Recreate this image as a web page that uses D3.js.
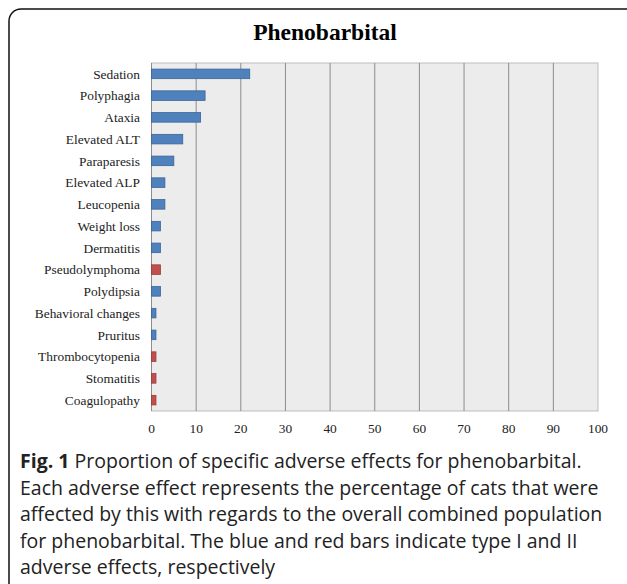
<!DOCTYPE html>
<html>
<head>
<meta charset="utf-8">
<script src="https://cdn.jsdelivr.net/npm/d3@7"></script>
<style>
  body { margin: 0; background: #fff; }
  svg { display: block; }
</style>
</head>
<body>
<svg width="627" height="584"></svg>
<script>
// data (percent of cats)
var categories = ["Sedation", "Polyphagia", "Ataxia", "Elevated ALT", "Paraparesis", "Elevated ALP",
  "Leucopenia", "Weight loss", "Dermatitis", "Pseudolymphoma", "Polydipsia", "Behavioral changes",
  "Pruritus", "Thrombocytopenia", "Stomatitis", "Coagulopathy"];
var values = [22, 12, 11, 7, 5, 3, 3, 2, 2, 2, 2, 1, 1, 1, 1, 1];
var types = ["I", "I", "I", "I", "I", "I", "I", "I", "I", "II", "I", "I", "I", "II", "II", "II"];
var xTicks = [0, 10, 20, 30, 40, 50, 60, 70, 80, 90, 100];
var captionLines = [
  "Proportion of specific adverse effects for phenobarbital.",
  "Each adverse effect represents the percentage of cats that were",
  "affected by this with regards to the overall combined population",
  "for phenobarbital. The blue and red bars indicate type I and II",
  "adverse effects, respectively"
];

var svg = d3.select("svg");

// outer frame
svg.append("rect")
  .attr("x", 9).attr("y", 9)
  .attr("width", 630).attr("height", 590)
  .attr("rx", 12)
  .attr("fill", "none").attr("stroke", "#111").attr("stroke-width", 1.5);

svg.append("text")
  .attr("x", 325).attr("y", 40)
  .attr("text-anchor", "middle")
  .attr("font-family", "Liberation Serif, serif")
  .attr("font-weight", "bold")
  .attr("font-size", 23.5)
  .text("Phenobarbital");

var pLeft = 151.5, pRight = 598, pTop = 63, pBottom = 411;

var x = d3.scaleLinear().domain([0, 100]).range([pLeft, pRight]);
var y = d3.scaleBand().domain(categories).range([pTop, pBottom]).paddingInner(0.56).paddingOuter(0.28);
var color = { "I": "#4F81BD", "II": "#C0504D" };
var stroke = { "I": "#3A6599", "II": "#9B3C3A" };

svg.append("rect")
  .attr("x", pLeft).attr("y", pTop)
  .attr("width", pRight - pLeft).attr("height", pBottom - pTop)
  .attr("fill", "#ECECEC").attr("stroke", "#BDBDBD");

// vertical gridlines
svg.append("g").selectAll("line")
  .data(xTicks.slice(1, -1))
  .enter().append("line")
  .attr("x1", function(d) { return x(d); })
  .attr("x2", function(d) { return x(d); })
  .attr("y1", pTop).attr("y2", pBottom)
  .attr("stroke", "#8C8C8C").attr("stroke-width", 1);

svg.append("line")
  .attr("x1", pLeft).attr("x2", pLeft).attr("y1", pTop).attr("y2", pBottom)
  .attr("stroke", "#8C8C8C");

// bars
svg.append("g").selectAll("rect")
  .data(categories)
  .enter().append("rect")
  .attr("x", x(0))
  .attr("y", function(d) { return y(d); })
  .attr("width", function(d, i) { return x(values[i]) - x(0); })
  .attr("height", y.bandwidth())
  .attr("fill", function(d, i) { return color[types[i]]; })
  .attr("stroke", function(d, i) { return stroke[types[i]]; })
  .attr("stroke-width", 0.8);

// category labels
svg.append("g").selectAll("text")
  .data(categories)
  .enter().append("text")
  .attr("x", 140)
  .attr("y", function(d) { return y(d) + y.bandwidth() / 2; })
  .attr("dy", "0.35em")
  .attr("text-anchor", "end")
  .attr("font-family", "Liberation Serif, serif")
  .attr("font-size", 13.4)
  .attr("fill", "#222")
  .text(function(d) { return d; });

// x tick labels
svg.append("g").selectAll("text")
  .data(xTicks)
  .enter().append("text")
  .attr("x", function(d) { return x(d); })
  .attr("y", 433)
  .attr("text-anchor", "middle")
  .attr("font-family", "Liberation Serif, serif")
  .attr("font-size", 13.4)
  .attr("fill", "#222")
  .text(function(d) { return d; });

// caption
var cap = svg.append("g")
  .attr("font-family", "Open Sans, sans-serif")
  .attr("font-size", 19.5)
  .attr("fill", "#222");

captionLines.forEach(function(line, i) {
  var t = cap.append("text").attr("x", 20).attr("y", 468 + i * 26.5);
  if (i == 0) {
    t.append("tspan").attr("font-weight", "bold").text("Fig. 1 ");
  }
  t.append("tspan").text(line);
});
</script>
</body>
</html>
